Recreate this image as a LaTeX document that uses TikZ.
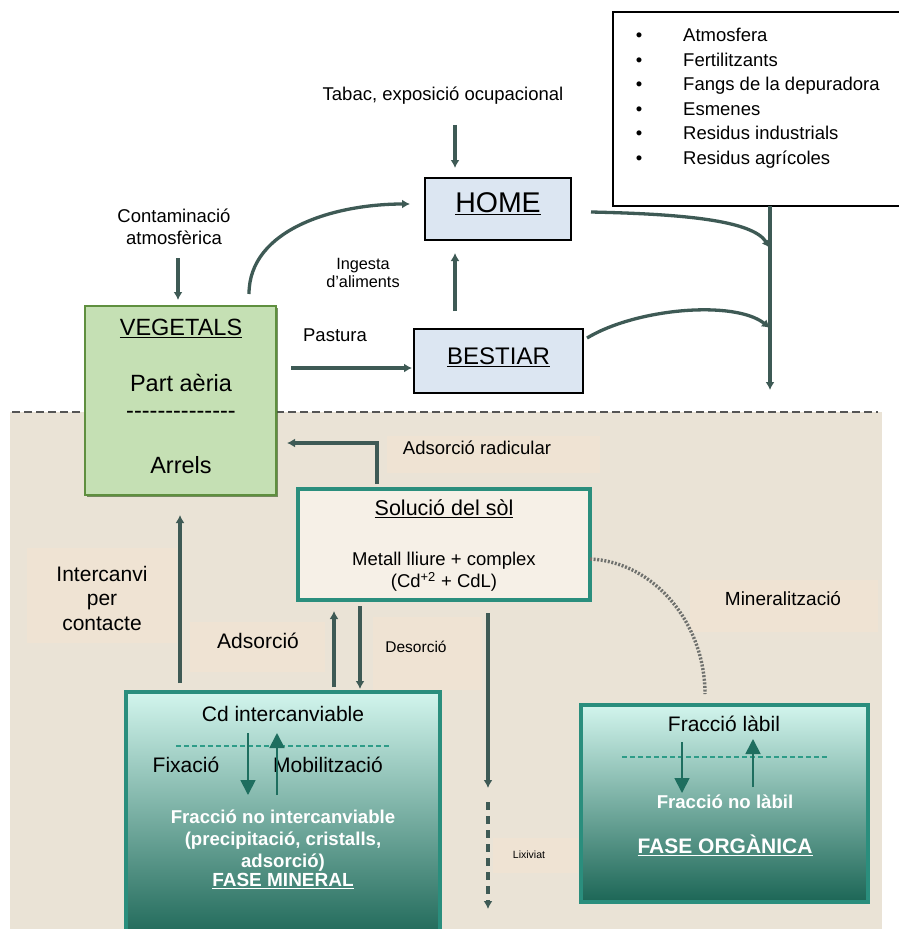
\documentclass[tikz,border=0pt]{standalone}
\usepackage{fontspec}
\setmainfont{Liberation Sans}
\usetikzlibrary{arrows.meta,calc,shadows}
\newcommand\myfs[2]{\fontsize{#1}{#2}\selectfont}
\definecolor{soil}{HTML}{EAE3D6}
\definecolor{patch}{HTML}{EFE3D3}
\definecolor{arrowc}{HTML}{3E5A55}
\definecolor{vegfill}{HTML}{C5E0B4}
\definecolor{vegdraw}{HTML}{5F8F3F}
\definecolor{bluefill}{HTML}{DCE6F2}
\definecolor{solfill}{HTML}{F6F0E7}
\definecolor{tealb}{HTML}{2A8E7D}
\definecolor{mintTop}{HTML}{D2F5ED}
\definecolor{tealBot}{HTML}{1C6656}
\definecolor{innerArrow}{HTML}{1E6E5F}
\definecolor{dashTeal}{HTML}{2E9C88}
\definecolor{dotgray}{HTML}{6F716E}
\definecolor{divgray}{HTML}{555555}
\begin{document}
\begin{tikzpicture}[x=1pt,y=-1pt,
  lbl/.style={inner sep=0pt,outer sep=0pt,text height=0.72em,text depth=0pt},
  mlbl/.style={inner sep=0pt,outer sep=0pt,align=center},
  box/.style={rectangle,inner sep=0pt,outer sep=0pt},
  gradbox/.style={box,top color=mintTop,bottom color=tealBot,draw=tealb,line width=4pt},
  arr/.style={draw=arrowc,line width=3.3pt,-{Latex[length=8pt,width=9pt]}},
  tri/.style={draw=innerArrow,line width=1.8pt,-{Triangle[length=15pt,width=15pt]}},
  tdash/.style={draw=dashTeal,line width=1.6pt,dash pattern=on 5pt off 3pt},
  dotarc/.style={draw=dotgray,line width=3.4pt,dash pattern=on 2pt off 1.6pt},
  divider/.style={draw=divgray,line width=2pt,dash pattern=on 8pt off 4pt},
  wbold/.style={text=white,font=\bfseries\myfs{18.6}{22}}
]
\useasboundingbox (0,0) rectangle (899,929);
\begin{scope}
\clip (0,0) rectangle (899,929);
\fill[white] (0,0) rectangle (899,929);
% soil background
\fill[soil] (10,412) rectangle (882,935);
\fill[patch] (27,548) rectangle (177,643);
\fill[patch] (190,622) rectangle (325,672);
\fill[patch] (373,617) rectangle (482,690);
\fill[patch] (387,436) rectangle (600,473);
\fill[patch] (690,580) rectangle (878,632);
\fill[patch] (493,838) rectangle (578,873);
\draw[divider] (12,412) -- (878,412);

% boxes
\node[box,draw=black,line width=2pt,fill=white,minimum width=292pt,minimum height=194pt,anchor=north west] (legend) at (613,12) {};
\node[box,draw=black,line width=2.2pt,fill=bluefill,minimum width=146pt,minimum height=62pt,
      font=\myfs{28.5}{30},text height=0.72em,text depth=0pt] (home) at (498,209) {\underline{HOME}};
\node[box,draw=black,line width=2.2pt,fill=bluefill,minimum width=169pt,minimum height=64pt,
      font=\myfs{24}{26},text height=0.72em,text depth=0pt] (bestiar) at (498.5,361) {\underline{BESTIAR}};
\node[box,fill=vegfill,draw=vegdraw,line width=2.5pt,minimum width=191pt,minimum height=189pt,
      drop shadow={shadow xshift=2pt,shadow yshift=-2pt,fill=vegdraw!70!black,opacity=0.7}] (veg) at (180.5,400.5) {};
\node[box,fill=solfill,draw=tealb,line width=4pt,minimum width=292pt,minimum height=111pt] (sol) at (444,544.5) {};
\node[gradbox,minimum width=314pt,minimum height=250pt] (min) at (283,817) {};
\node[gradbox,minimum width=287pt,minimum height=197pt] (org) at (724.5,803.5) {};

% legend items
\foreach \t [count=\i] in {Atmosfera,Fertilitzants,Fangs de la depuradora,Esmenes,Residus industrials,Residus agrícoles}{
  \node[inner sep=0pt,anchor=base,font=\myfs{18.5}{22}] (bul\i) at (639,{41.6+24.5*(\i-1)}) {\textbullet};
  \node[inner sep=0pt,anchor=base west,font=\myfs{18.5}{22}] (leg\i) at (683,{41.6+24.5*(\i-1)}) {\t};
}

% text labels
\node[lbl,font=\myfs{18.5}{22}] (tabac) at (443,97) {Tabac, exposició ocupacional};
\node[mlbl,font=\myfs{18.5}{21.5}] (contam) at (174,227) {Contaminació\\atmosfèrica};
\node[mlbl,font=\myfs{16.3}{18}] (ingesta) at (363,273) {Ingesta\\d’aliments};
\node[lbl,font=\myfs{18.5}{22}] (pastura) at (335,338) {Pastura};
\node[lbl,font=\myfs{23.5}{26}] (vegT) at (181,332) {\underline{VEGETALS}};
\node[lbl,font=\myfs{23.5}{26}] (partT) at (181,388) {Part aèria};
\node[lbl,font=\myfs{23.5}{26}] (dashT) at (181,415) {-{}-{}-{}-{}-{}-{}-{}-{}-{}-{}-{}-{}-{}-};
\node[lbl,font=\myfs{23.5}{26}] (arrT) at (181,470) {Arrels};
\node[lbl,font=\myfs{18.5}{22}] (radic) at (477,451) {Adsorció radicular};
\node[lbl,font=\myfs{21.5}{24}] (solT) at (444,512) {\underline{Solució del sòl}};
\node[mlbl,font=\myfs{18.5}{22}] (metT) at (444,572) {Metall lliure + complex\\(Cd\textsuperscript{+2} + CdL)};
\node[mlbl,font=\myfs{21}{24.5}] (interc) at (102,598) {Intercanvi\\per\\contacte};
\node[lbl,font=\myfs{21}{24}] (adsT) at (258,645) {Adsorció};
\node[lbl,font=\myfs{15.5}{18}] (desT) at (416,649) {Desorció};
\node[lbl,font=\myfs{19}{22}] (minerT) at (783,602) {Mineralització};
\node[lbl,font=\myfs{10.5}{12}] (lixT) at (529,855) {Lixiviat};

% mineral phase content
\node[lbl,font=\myfs{21}{24}] (cdint) at (283,718) {Cd intercanviable};
\draw[tdash] (176,746) -- (390,746);
\node[lbl,font=\myfs{21}{24}] (fixT) at (186,769) {Fixació};
\node[lbl,font=\myfs{21}{24}] (mobT) at (328,769) {Mobilització};
\coordinate (mDa) at (248,733); \coordinate (mDb) at (248,795);
\coordinate (mUa) at (277,795); \coordinate (mUb) at (277,733);
\draw[tri] (mDa) -- (mDb);
\draw[tri] (mUa) -- (mUb);
\node[mlbl,wbold] (fracNo) at (283,841) {Fracció no intercanviable\\(precipitació, cristalls,\\adsorció)};
\node[lbl,text=white,font=\bfseries\myfs{19}{22}] (faseMin) at (283,883) {\underline{FASE MINERAL}};

% organic phase content
\node[lbl,font=\myfs{21}{24}] (fracLab) at (724,728) {Fracció làbil};
\draw[tdash] (622,757) -- (828,757);
\coordinate (oDa) at (682,742); \coordinate (oDb) at (682,793);
\coordinate (oUa) at (753,787); \coordinate (oUb) at (753,739);
\draw[tri] (oDa) -- (oDb);
\draw[tri] (oUa) -- (oUb);
\node[lbl,wbold] (fracNoLab) at (725,805) {Fracció no làbil};
\node[lbl,text=white,font=\bfseries\myfs{21}{24}] (faseOrg) at (725,850) {\underline{FASE ORGÀNICA}};

% connectors
\draw[arr] ([xshift=12pt,yshift=-24.3pt]tabac.south) -- ([xshift=-43pt,yshift=10pt]home.north);
\draw[arr] ([xshift=-2.5pt,yshift=48pt]veg.north) -- ([xshift=-2.5pt,yshift=6pt]veg.north);
\draw[arr] ([xshift=68.5pt,yshift=12pt]veg.north) .. controls +(0,-65) and +(-75,0) .. ([xshift=-15pt,yshift=5pt]home.west);
\draw[arr] ([xshift=-43.5pt,yshift=18pt]bestiar.north) -- ([xshift=-43pt,yshift=-13pt]home.south);
\coordinate (pasY) at (0,368);
\draw[arr] ([xshift=15pt]veg.east |- pasY) -- ([xshift=-2pt]bestiar.west |- pasY);
\coordinate (collEnd) at (770,390);
\coordinate (hJoin) at (770,248);
\coordinate (bJoin) at (770,328);
\draw[arr] (legend.south -| collEnd) -- (collEnd);
\draw[arr] ([xshift=20pt,yshift=-3pt]home.east) .. controls +(90,2) and +(-18,-28) .. (hJoin);
\draw[arr] ([xshift=4pt,yshift=23pt]bestiar.east) .. controls +(50,-30) and +(-35,-28) .. (bJoin);
\coordinate (radY) at (0,443);
\draw[arr] ([xshift=-67pt,yshift=5pt]sol.north) |- ([xshift=11pt]veg.east |- radY);
\draw[arr] ([xshift=-103pt,yshift=9pt]min.north) -- ([xshift=-0.5pt,yshift=-20pt]veg.south);
\draw[arr] ([xshift=51pt,yshift=5pt]min.north) -- ([xshift=-110pt,yshift=-11pt]sol.south);
\draw[arr] ([xshift=-84pt,yshift=-6pt]sol.south) -- ([xshift=77pt,yshift=3pt]min.north);
\coordinate (lixA) at (488,788);
\coordinate (lixB) at (488,802);
\coordinate (lixC) at (488,909);
\draw[arr] ([xshift=44pt,yshift=-13pt]sol.south) -- (lixA);
\draw[arr,dash pattern=on 8pt off 6pt] (lixB) -- (lixC);
\draw[dotarc] ([yshift=-14.5pt]sol.east) .. controls +(65,3) and +(0,-70) .. ([xshift=-19.5pt,yshift=11pt]org.north);
\end{scope}
\end{tikzpicture}
\end{document}
